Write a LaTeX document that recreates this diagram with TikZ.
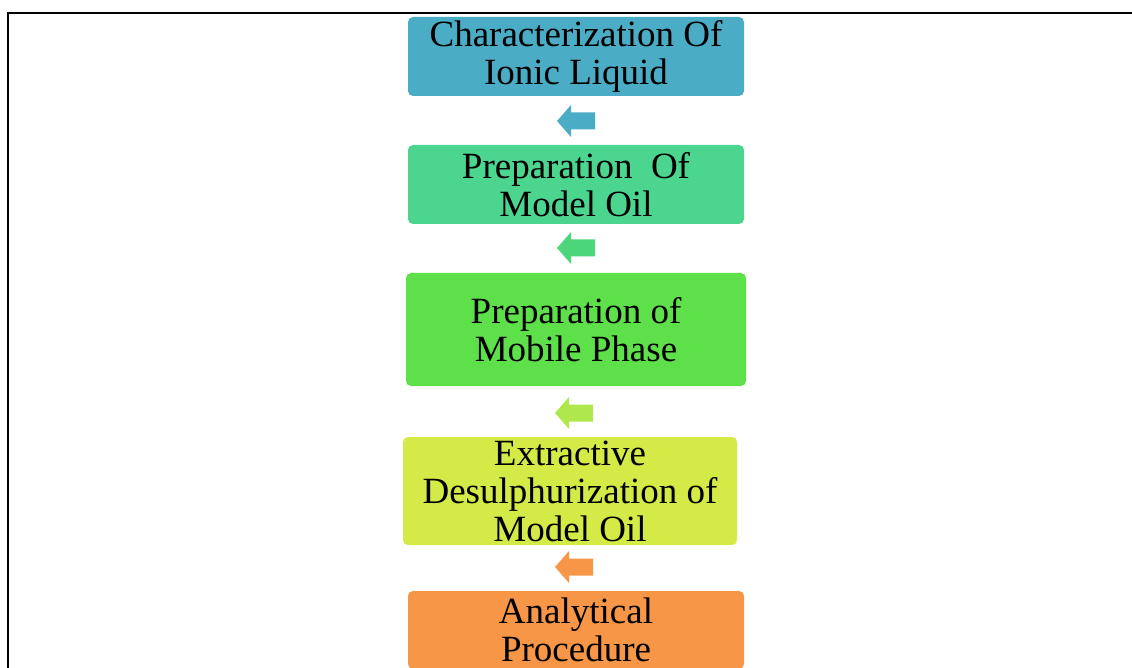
\documentclass[tikz,border=0pt]{standalone}
\usepackage{fontspec}
\setmainfont{Liberation Serif}
\definecolor{cA}{HTML}{4BACC6}
\definecolor{cB}{HTML}{4BD58F}
\definecolor{cBa}{HTML}{4BD679}
\definecolor{cC}{HTML}{5EE04A}
\definecolor{cCa}{HTML}{AEE84C}
\definecolor{cD}{HTML}{D5EA47}
\definecolor{cE}{HTML}{F79646}
\begin{document}
\begin{tikzpicture}[x=1pt,y=-1pt,
  stepbox/.style={rounded corners=5pt, inner sep=0pt, align=center,
    font=\fontsize{37}{38}\selectfont, text=black},
  larrow/.pic={\fill (0,0) -- (14,-16) -- (14,-8.5) -- (38,-8.5) -- (38,8.5) -- (14,8.5) -- (14,16) -- cycle;}
]
\useasboundingbox (0,0) rectangle (1132,668);
\begin{scope}
\clip (0,0) rectangle (1132,668);
\draw[line width=2pt] (8,13) rectangle (1150,690);
\node[stepbox, fill=cA, minimum width=336pt, minimum height=79pt] (b1) at (576,56.5) {Characterization Of\\Ionic Liquid};
\node[stepbox, fill=cB, minimum width=336pt, minimum height=79pt] (b2) at (576,184.5) {Preparation\ \ Of\\Model Oil};
\node[stepbox, fill=cC, minimum width=340pt, minimum height=113pt] (b3) at (576,329.5) {Preparation of\\Mobile Phase};
\node[stepbox, fill=cD, minimum width=334pt, minimum height=108pt] (b4) at (570,491) {Extractive\\Desulphurization of\\Model Oil};
\node[stepbox, fill=cE, minimum width=336pt, minimum height=78pt] (b5) at (576,630) {Analytical\\Procedure};
\pic[color=cA] at (557,121) {larrow};
\pic[color=cBa] at (557,248) {larrow};
\pic[color=cCa] at (555,413) {larrow};
\pic[color=cE] at (555,567) {larrow};
\end{scope}
\end{tikzpicture}
\end{document}
